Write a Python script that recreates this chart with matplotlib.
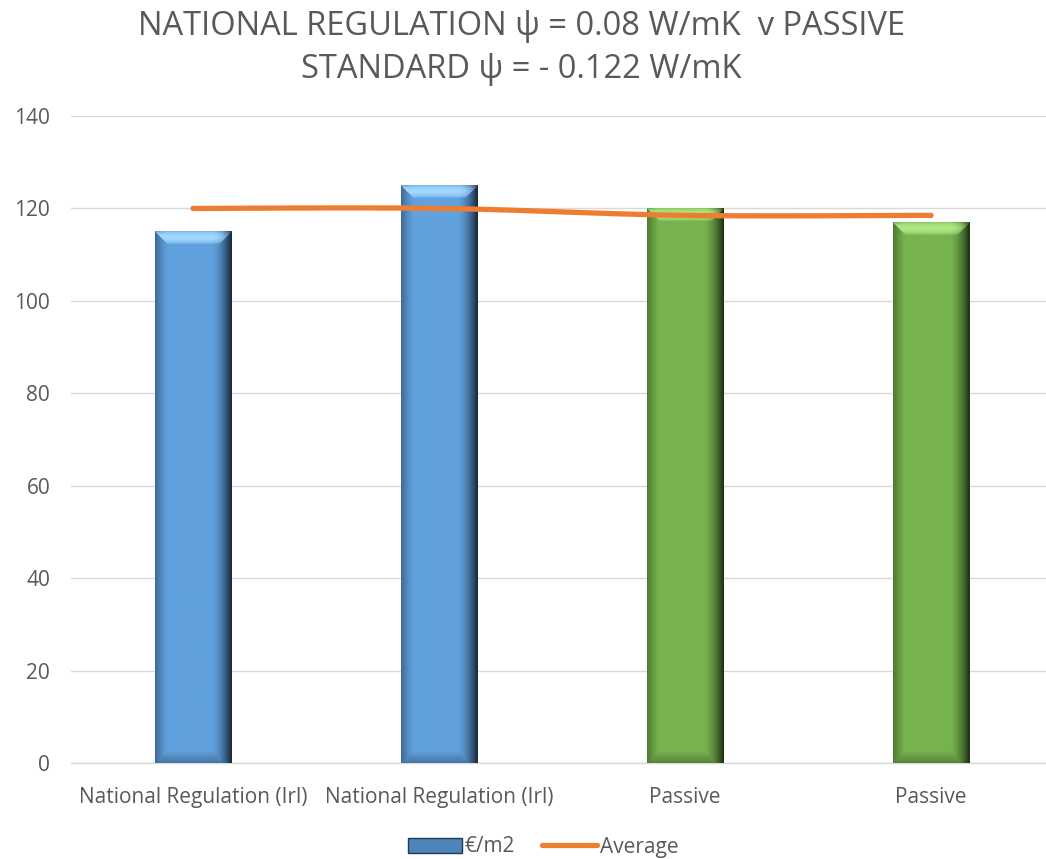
import matplotlib
matplotlib.use("Agg")
import matplotlib.pyplot as plt
import numpy as np
from matplotlib.patches import Rectangle
from matplotlib.lines import Line2D
from matplotlib.colors import to_rgb

categories = ["National Regulation (Irl)", "National Regulation (Irl)", "Passive", "Passive"]
values = [115, 125, 120, 117]
average = [120, 120, 118.5, 118.5]
bar_colors = ["#60A1DE", "#60A1DE", "#77B34F", "#77B34F"]
dark_colors = ["#152436", "#152436", "#1A2C10", "#1A2C10"]
light_colors = ["#A2D8FF", "#A2D8FF", "#ABE882", "#ABE882"]
title = "NATIONAL REGULATION \u03c8 = 0.08 W/mK  v PASSIVE\nSTANDARD \u03c8 = - 0.122 W/mK"

plt.rcParams['font.family'] = ['Open Sans', 'DejaVu Sans']
gray = "#595959"

fig = plt.figure(figsize=(10.46, 8.59), dpi=100)
ax = fig.add_axes([71/1046, 1-763/859, (1046-71)/1046, (763-116)/859])
ax.set_xlim(-0.496, 3.467)
ax.set_ylim(0, 140)

x = np.arange(len(categories))
bars = ax.bar(x, values, width=0.31, color=bar_colors, zorder=2, linewidth=0)


def bevel_image(wpx, hpx, base, dark, light):
    base, dark, light = (np.array(to_rgb(c)) for c in (base, dark, light))
    u = np.arange(wpx) + 0.5
    v = np.arange(hpx) + 0.5
    U, V = np.meshgrid(u, v)  # V measured from top
    dl, dr, dt, db = U, wpx - U, V, hpx - V
    b = 13.0
    img = np.tile(base, (hpx, wpx, 1)).astype(float)
    right = np.clip(1 - dr / 20.0, 0, 1) ** 1.6
    left = np.clip(1 - dl / 12.0, 0, 1) ** 1.2 * 0.45
    bottom = np.clip(1 - db / 12.0, 0, 1) * 0.35
    topmask = (dt <= np.minimum(dl, dr)) & (dt < b)
    top = np.where(topmask, np.sin(np.clip(dt / b, 0, 1) * np.pi) ** 0.6 * 0.9 + 0.2 * (1 - dt / b), 0)
    dk = np.clip(np.maximum(np.maximum(right, left), bottom * (db <= np.minimum(dl, dr))), 0, 0.95)
    img = img * (1 - dk[..., None]) + dark * dk[..., None]
    top = np.clip(top, 0, 1) * (1 - right * 0.8)
    img = img * (1 - top[..., None]) + light * top[..., None]
    return np.clip(img, 0, 1)


for b, bc, dc, lc in zip(bars, bar_colors, dark_colors, light_colors):
    x0, w, h = b.get_x(), b.get_width(), b.get_height()
    p0 = ax.transData.transform((x0, 0))
    p1 = ax.transData.transform((x0 + w, h))
    wpx, hpx = int(round(p1[0] - p0[0])), int(round(p1[1] - p0[1]))
    img = bevel_image(wpx, hpx, bc, dc, lc)
    ax.imshow(img, extent=(x0, x0 + w, 0, h), aspect="auto", zorder=3, interpolation="bilinear")

ax.set_xlim(-0.496, 3.467)
ax.set_ylim(0, 140)

# smoothed average line (Catmull-Rom through the points)
pts = np.column_stack([x, average]).astype(float)
ext = np.vstack([pts[0], pts, pts[-1]])
xs, ys = [], []
for i in range(1, len(ext) - 2):
    p0, p1, p2, p3 = ext[i - 1], ext[i], ext[i + 1], ext[i + 2]
    for t in np.linspace(0, 1, 30):
        t2, t3 = t * t, t * t * t
        pt = 0.5 * ((2 * p1) + (-p0 + p2) * t + (2 * p0 - 5 * p1 + 4 * p2 - p3) * t2 + (-p0 + 3 * p1 - 3 * p2 + p3) * t3)
        xs.append(pt[0]); ys.append(pt[1])
ax.plot(xs, ys, color="#ED7D31", lw=3.8, solid_capstyle="round", zorder=5)

ax.set_yticks(np.arange(0, 141, 20))
ax.yaxis.grid(True, color="#D9D9D9", lw=1.0, zorder=0)
ax.set_axisbelow(True)
for s in ["top", "right", "left"]:
    ax.spines[s].set_visible(False)
ax.spines["bottom"].set_color("#D9D9D9")
ax.spines["bottom"].set_linewidth(1.0)
ax.spines["bottom"].set_zorder(1)
ax.set_xticks(x)
ax.set_xticklabels(categories)
ax.tick_params(axis="both", length=0, colors=gray, labelsize=15)
ax.tick_params(axis="x", pad=17)
ax.tick_params(axis="y", pad=15)

fig.text(521/1046, 1 - 48/859, title, ha="center", va="center", fontsize=23.5, color=gray, linespacing=1.38)

handles = [Rectangle((0, 0), 1, 1, facecolor="#4F84BA", edgecolor="#1F3A57", lw=1),
           Line2D([0], [0], color="#ED7D31", lw=3.8, solid_capstyle="round")]
leg = fig.legend(handles, ["\u20ac/m2", "Average"], loc="center", bbox_to_anchor=(543/1046, 1 - 847/859),
                 ncol=2, frameon=False, fontsize=15, handlelength=2.6, handletextpad=0.15, columnspacing=1.3)
for t in leg.get_texts():
    t.set_color(gray)

fig.savefig("out.png", dpi=100)
